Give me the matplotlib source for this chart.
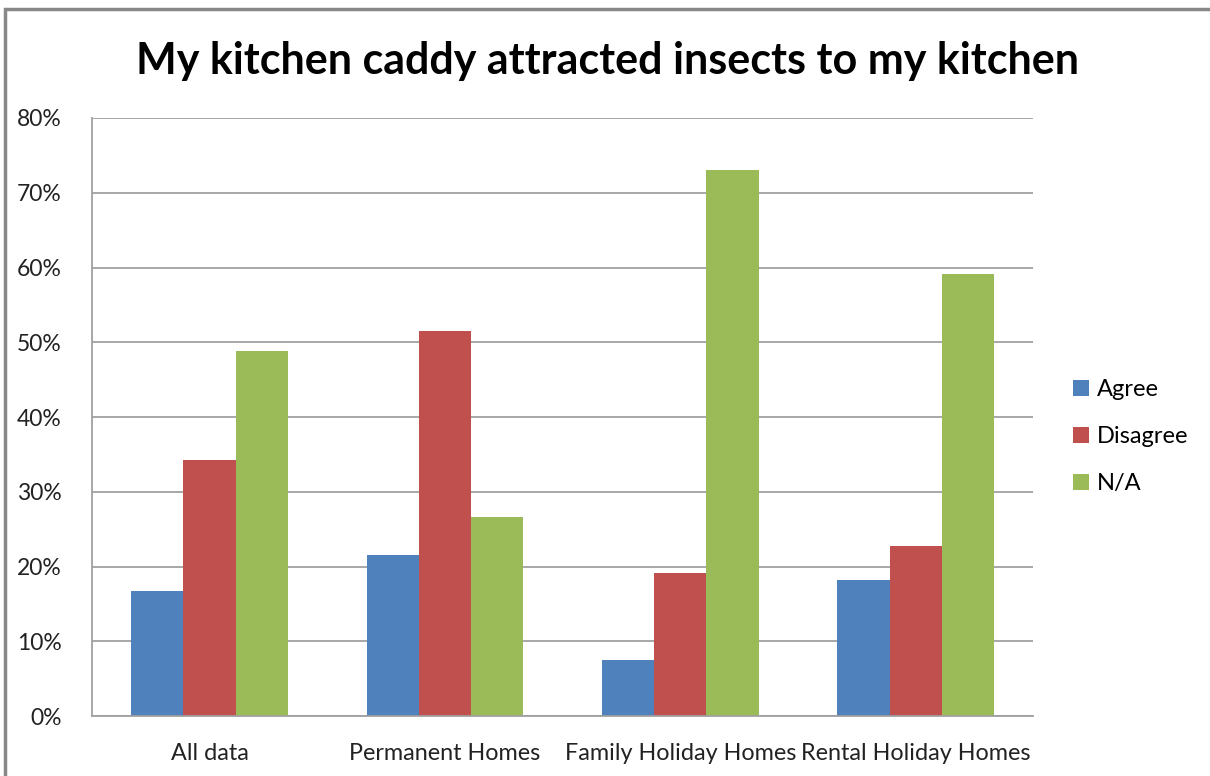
import matplotlib.pyplot as plt
import numpy as np
from matplotlib.patches import Rectangle

plt.rcParams['font.family'] = ['Lato', 'DejaVu Sans']

# Survey responses (share of respondents)
categories = ['All data', 'Permanent Homes', 'Family Holiday Homes', 'Rental Holiday Homes']
agree = [16.7, 21.6, 7.5, 18.2]
disagree = [34.3, 51.5, 19.2, 22.7]
na = [48.9, 26.6, 73.0, 59.1]

series = [('Agree', agree, '#4f81bd'),
          ('Disagree', disagree, '#c0504d'),
          ('N/A', na, '#9bbb59')]

fig = plt.figure(figsize=(12.1, 7.76), dpi=100)
ax = fig.add_axes([0.076, 0.077, 0.778, 0.771])

x = np.arange(len(categories))
width = 1 / 4.5
for i, (name, vals, color) in enumerate(series):
    ax.bar(x + (i - 1) * width, vals, width, color=color, label=name, zorder=2)

ax.set_xlim(-0.5, len(categories) - 0.5)
ax.set_ylim(0, 80)
ax.set_yticks(range(0, 81, 10))
ax.set_yticklabels([f'{v}%' for v in range(0, 81, 10)], fontsize=16.5, color='#222222')
ax.set_xticks(x)
ax.set_xticklabels(categories, fontsize=16.8, color='#222222')
ax.tick_params(axis='both', length=0)
ax.tick_params(axis='y', pad=22)
ax.tick_params(axis='x', pad=19)
ax.grid(axis='y', color='#a0a0a0', linewidth=1.3, zorder=0)
for side in ['top', 'right']:
    ax.spines[side].set_visible(False)
for side in ['left', 'bottom']:
    ax.spines[side].set_color('#a0a0a0')
    ax.spines[side].set_linewidth(1.3)

fig.suptitle('My kitchen caddy attracted insects to my kitchen',
             fontsize=31, fontweight='bold', x=0.502, y=0.947)

ax.legend(loc='center left', bbox_to_anchor=(1.02, 0.467), frameon=False,
          fontsize=17, handlelength=0.65, handleheight=0.65, handletextpad=0.35,
          labelspacing=1.1)

# chart area border
fig.patches.append(Rectangle((0.004, -0.01), 1.0, 0.998, transform=fig.transFigure,
                             fill=False, edgecolor='#888888', linewidth=2.5))

fig.savefig('out.png', dpi=100)
